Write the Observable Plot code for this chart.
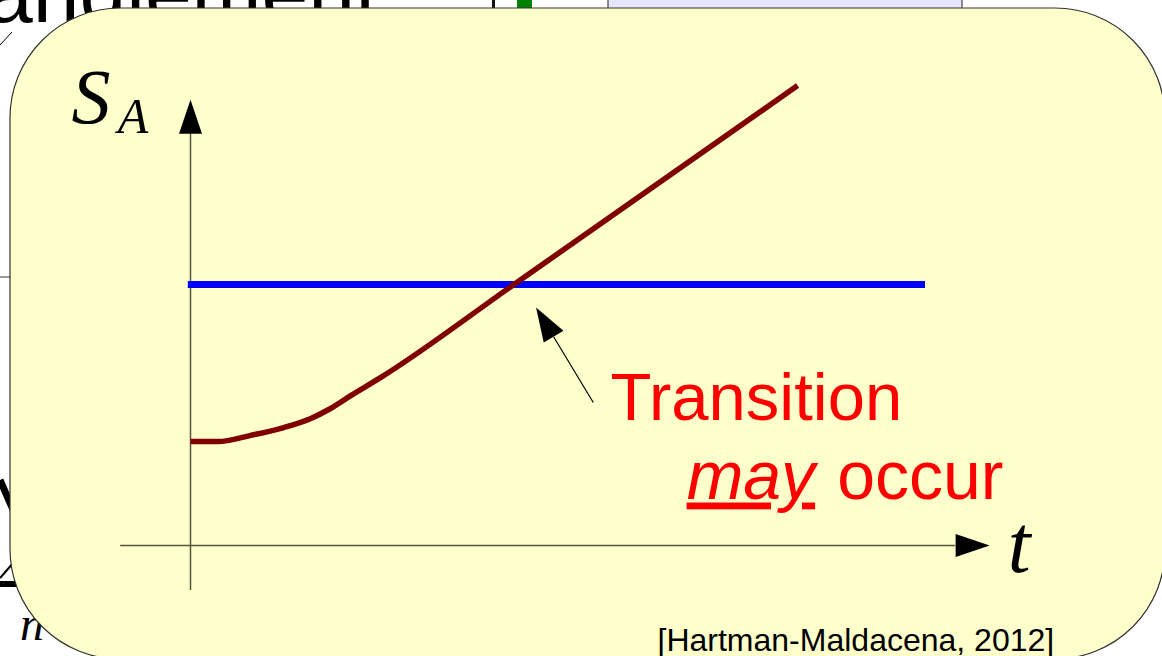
<!DOCTYPE html>
<html>
<head>
<meta charset="utf-8">
<script src="https://cdn.jsdelivr.net/npm/d3@7"></script>
<script src="https://cdn.jsdelivr.net/npm/@observablehq/plot@0.6"></script>
<style>
  html, body { margin: 0; padding: 0; background: #ffffff; }
  #stage { position: relative; width: 1162px; height: 656px; overflow: hidden; background: #ffffff; }
  #bg, #chart { position: absolute; left: 0; top: 0; }
  #chart svg { background: transparent; overflow: visible; }
  .underlined text { text-decoration: underline; text-decoration-thickness: 3px; text-underline-offset: 5px; }
</style>
</head>
<body>
<div id="stage">
  <svg id="bg" width="1162" height="656" xmlns="http://www.w3.org/2000/svg">
    <!-- slide content behind the callout box -->
    <text x="-140" y="22" font-family="Liberation Sans, Arial, sans-serif" font-size="84" fill="#000">Entanglement</text>
    <line x1="0" y1="45" x2="12" y2="32" stroke="#000" stroke-width="1"/>
    <rect x="492" y="0" width="3" height="12" fill="#111"/>
    <rect x="517" y="0" width="15" height="12" fill="#008000"/>
    <rect x="608" y="-2" width="354" height="14" fill="#e6e6ff" stroke="#222" stroke-width="1"/>
    <line x1="0" y1="277" x2="14" y2="277" stroke="#777" stroke-width="1.5"/>
    <line x1="0" y1="480" x2="14" y2="512" stroke="#000" stroke-width="7"/>
    <line x1="0" y1="584" x2="16" y2="584" stroke="#000" stroke-width="6"/>
    <line x1="0" y1="578" x2="14" y2="562" stroke="#000" stroke-width="2"/>
    <text x="20" y="640" font-family="Liberation Serif, serif" font-style="italic" font-size="48" fill="#000">n</text>
    <!-- callout box -->
    <rect x="10" y="8" width="1155" height="651" rx="110" ry="110" fill="#ffffcc" stroke="#333" stroke-width="1.2"/>
  </svg>
  <div id="chart"></div>
</div>
<script>
// ---- data (t in arbitrary time units, S_A in arbitrary entropy units) ----
const curveT = [0.00, 0.37, 0.82, 1.27, 1.63, 1.90, 2.18, 2.59, 4.40, 8.26];
const curveS = [1.99, 1.99, 2.11, 2.26, 2.43, 2.62, 2.87, 3.22, 5.00, 8.81];
const plateauS = [5.0];            // saturation level (blue)
const plateauT = [-0.03, 10.0];    // extent of the plateau line
const xAxisT = [-0.95, 10.41];     // horizontal axis extent (before arrowhead)
const yAxisS = [-0.86, 7.89];      // vertical axis extent (before arrowhead)
const annotTail = {t: 5.48, s: 2.74};
const annotHead = {t: 4.94, s: 4.00, angle: -31};
const labels = {
  yName: "S", ySub: "A", xName: "t",
  note1: "Transition", noteEm: "may", note2: "occur",
  cite: "[Hartman-Maldacena, 2012]"
};

const curve = curveT.map((t, i) => ({t, s: curveS[i]}));
const heads = [
  {t: 0, s: yAxisS[1], angle: 0},
  {t: xAxisT[1], s: 0, angle: 90},
  annotHead
];

// filled arrowhead pointing "up" from its base centre
const arrowHead = {
  draw(ctx) {
    ctx.moveTo(0, -34);
    ctx.lineTo(11.5, 0);
    ctx.lineTo(-11.5, 0);
    ctx.closePath();
  }
};

const axisColor = "#55553f";
const mathFont = "Liberation Serif, Times New Roman, serif";
const sansFont = "Liberation Sans, Arial, sans-serif";

const chart = Plot.plot({
  width: 1162,
  height: 656,
  margin: 0,
  style: {background: "transparent", overflow: "visible"},
  x: {domain: [0, 10], range: [190, 925], axis: null},
  y: {domain: [0, 5], range: [545, 284], axis: null},
  marks: [
    Plot.ruleX([0], {y1: yAxisS[0], y2: yAxisS[1], stroke: axisColor, strokeWidth: 1.5}),
    Plot.ruleY([0], {x1: xAxisT[0], x2: xAxisT[1], stroke: axisColor, strokeWidth: 1.5}),
    Plot.ruleY(plateauS, {x1: plateauT[0], x2: plateauT[1], stroke: "#0000ff", strokeWidth: 7}),
    Plot.line(curve, {x: "t", y: "s", stroke: "#800000", strokeWidth: 5.5, curve: "monotone-x", strokeLinecap: "butt"}),
    Plot.link([annotTail], {x1: "t", y1: "s", x2: () => annotHead.t, y2: () => annotHead.s, stroke: "#000", strokeWidth: 1.2}),
    Plot.dot(heads, {x: "t", y: "s", rotate: "angle", symbol: arrowHead, fill: "#000", stroke: null, r: 10}),
    Plot.text([labels.yName], {x: -1.62, y: 8.10, text: d => d, fontSize: 78, fontFamily: mathFont, fontStyle: "italic", textAnchor: "start", lineAnchor: "bottom", fill: "#000"}),
    Plot.text([labels.ySub], {x: -0.99, y: 7.91, text: d => d, fontSize: 50, fontFamily: mathFont, fontStyle: "italic", textAnchor: "start", lineAnchor: "bottom", fill: "#000"}),
    Plot.text([labels.xName], {x: 11.12, y: -0.50, text: d => d, fontSize: 82, fontFamily: mathFont, fontStyle: "italic", textAnchor: "start", lineAnchor: "bottom", fill: "#000"}),
    Plot.text([labels.note1], {x: 5.714, y: 2.395, text: d => d, fontSize: 67, fontFamily: sansFont, textAnchor: "start", lineAnchor: "bottom", fill: "#ff0000"}),
    Plot.text([labels.noteEm], {x: 6.75, y: 0.90, text: d => d, fontSize: 68, fontFamily: sansFont, fontStyle: "italic", textAnchor: "start", lineAnchor: "bottom", fill: "#ff0000", className: "underlined"}),
    Plot.text([labels.note2], {x: 11.06, y: 0.90, text: d => d, fontSize: 68, fontFamily: sansFont, textAnchor: "end", lineAnchor: "bottom", fill: "#ff0000"}),
    Plot.text([labels.cite], {x: 6.354, y: -2.03, text: d => d, fontSize: 32, fontFamily: sansFont, textAnchor: "start", lineAnchor: "bottom", fill: "#000"})
  ]
});
document.getElementById("chart").appendChild(chart);
</script>
</body>
</html>
